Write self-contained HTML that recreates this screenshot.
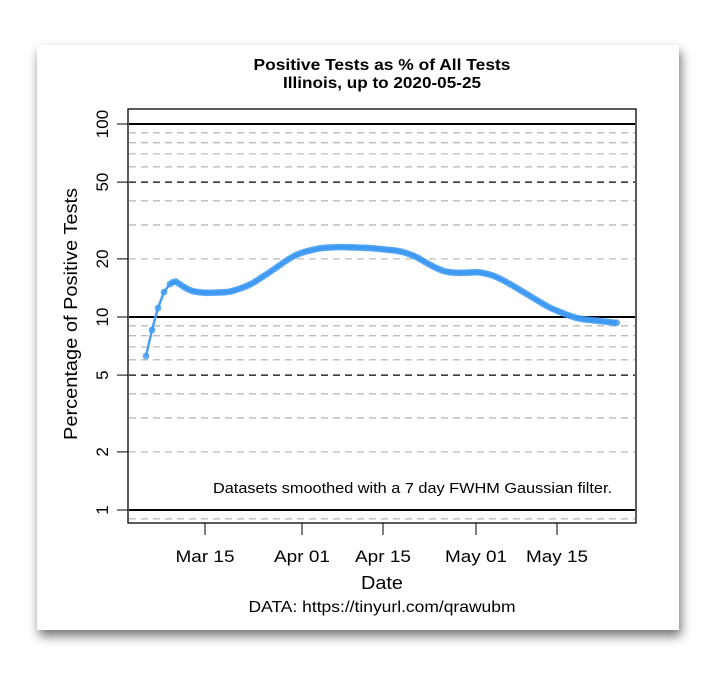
<!DOCTYPE html>
<html><head><meta charset="utf-8"><style>
html,body{margin:0;padding:0;background:#fff;width:717px;height:675px;overflow:hidden}
#card{position:absolute;left:37px;top:45px;width:642px;height:585px;background:#fff;box-shadow:2px 6px 10px rgba(0,0,0,0.55)}
svg{position:absolute;left:0;top:0}
text{font-family:"Liberation Sans",Arial,sans-serif;fill:#000}
</style></head><body>
<div id="card"></div>
<svg id="s" width="717" height="675" xmlns="http://www.w3.org/2000/svg">
<text x="382" y="70" font-size="16" font-weight="bold" text-anchor="middle" textLength="257" lengthAdjust="spacingAndGlyphs">Positive Tests as % of All Tests</text>
<text x="382" y="88" font-size="16" font-weight="bold" text-anchor="middle" textLength="198" lengthAdjust="spacingAndGlyphs">Illinois, up to 2020-05-25</text>
<g id="grid"></g>
<rect x="128" y="109" width="508" height="414" fill="none" stroke="#000" stroke-width="1.3"/>
<g id="ticks" stroke="#000" stroke-width="1"></g>
<g font-size="17" id="ylab"></g>
<text font-size="18" transform="translate(77,314) rotate(-90)" text-anchor="middle" textLength="252" lengthAdjust="spacingAndGlyphs">Percentage of Positive Tests</text>
<g font-size="17" text-anchor="middle">
<text x="205" y="562" textLength="59" lengthAdjust="spacingAndGlyphs">Mar 15</text><text x="302" y="562" textLength="56" lengthAdjust="spacingAndGlyphs">Apr 01</text><text x="383" y="562" textLength="56" lengthAdjust="spacingAndGlyphs">Apr 15</text><text x="476" y="562" textLength="62" lengthAdjust="spacingAndGlyphs">May 01</text><text x="557" y="562" textLength="62" lengthAdjust="spacingAndGlyphs">May 15</text>
</g>
<text x="382" y="589" font-size="18" text-anchor="middle" textLength="42" lengthAdjust="spacingAndGlyphs">Date</text>
<text x="382" y="612" font-size="16" text-anchor="middle" textLength="267" lengthAdjust="spacingAndGlyphs">DATA: https://tinyurl.com/qrawubm</text>
<text x="612" y="493" font-size="15" text-anchor="end" textLength="399" lengthAdjust="spacingAndGlyphs">Datasets smoothed with a 7 day FWHM Gaussian filter.</text>
<g id="series"></g>
</svg>
<script>
var NS="http://www.w3.org/2000/svg";
function Y(v){return 510-193*Math.log10(v);}
function el(p,tag,a){var e=document.createElementNS(NS,tag);for(var k in a)e.setAttribute(k,a[k]);p.appendChild(e);return e;}
var g=document.getElementById('grid');
var vals=[0.9,2,3,4,6,7,8,9,20,30,40,60,70,80,90];
vals.forEach(function(v){el(g,'line',{x1:129,x2:635,y1:Y(v),y2:Y(v),stroke:'#bbb','stroke-width':1.3,'stroke-dasharray':'7,5'});});
[5,50].forEach(function(v){el(g,'line',{x1:129,x2:635,y1:Y(v),y2:Y(v),stroke:'#000','stroke-width':1.3,'stroke-dasharray':'7,5'});});
[1,10,100].forEach(function(v){el(g,'line',{x1:129,x2:635,y1:Y(v),y2:Y(v),stroke:'#000','stroke-width':2});});
var t=document.getElementById('ticks');
[1,2,5,10,20,50,100].forEach(function(v){el(t,'line',{x1:117,x2:128,y1:Y(v),y2:Y(v)});});
[205,302,383,476,557].forEach(function(x){el(t,'line',{x1:x,x2:x,y1:523,y2:535});});
var yl=document.getElementById('ylab');
[1,2,5,10,20,50,100].forEach(function(v){var e=el(yl,'text',{transform:'translate(108,'+Y(v)+') rotate(-90)','text-anchor':'middle'});e.textContent=v;});
var A=[[146,356],[152,330],[158,308],[164,292],[170,284],[175,281],[181,285],[190,291],[205,293],[230,292],[250,285],[270,272],[290,258],[300,253],[320,248],[340,247],[370,248],[400,251],[415,256],[430,265],[445,272],[460,273],[480,272],[495,276],[510,284],[530,296],[550,308],[570,316],[580,319],[600,321],[617,323]];
function interp(x){for(var i=0;i<A.length-1;i++){if(x<=A[i+1][0]){var f=(x-A[i][0])/(A[i+1][0]-A[i][0]);return A[i][1]+f*(A[i+1][1]-A[i][1]);}}return A[A.length-1][1];}
function sm(x){if(x<185)return interp(x);var s=0,n=0;for(var d=-6;d<=6;d+=1){var xx=Math.min(617,x+d);s+=interp(xx);n++;}return s/n;}
var s=document.getElementById('series');var pts=[];
for(var i=0;i<5;i++){pts.push(A[i]);}
for(var x=170+2.9;x<=617.5;x+=2.9){pts.push([x,sm(x)]);}
el(s,'polyline',{points:pts.map(function(p){return p[0].toFixed(1)+','+p[1].toFixed(1);}).join(' '),fill:'none',stroke:'#4a9ff0','stroke-width':2.5,'stroke-linejoin':'round'});
pts.forEach(function(p){el(s,'circle',{cx:p[0],cy:p[1],r:3.4,fill:'#3d98f2','fill-opacity':0.8});});
</script>
</body></html>
